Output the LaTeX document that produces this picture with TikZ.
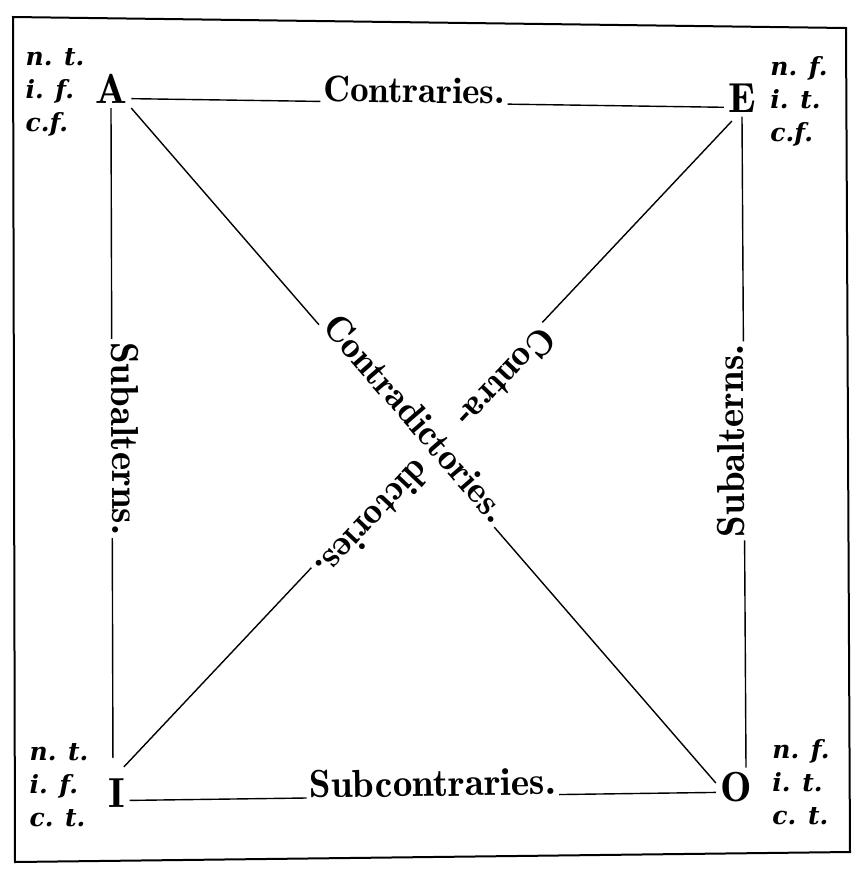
\documentclass[tikz,border=0pt]{standalone}
\usepackage{fontspec}
\newfontfamily\notefont{DejaVu Serif}
\usepackage{tikz}
\usetikzlibrary{positioning}
\tikzstyle{letter} = [inner sep=2pt, font=\fontseries{b}\fontsize{21}{21}\selectfont]
\tikzstyle{note} = [inner sep=0pt, align=left, font=\notefont\bfseries\itshape\fontsize{12.5}{16.5}\selectfont]
\tikzstyle{rel} = [fill=white, inner sep=1.5pt, anchor=base, sloped, allow upside down, font=\fontseries{b}\fontsize{18.5}{18.5}\selectfont]
\tikzstyle{big} = [font=\fontseries{b}\fontsize{19.5}{19.5}\selectfont]
\tikzstyle{line} = [line width=0.7pt]

\begin{document}
\begin{tikzpicture}[x=0.5pt, y=-0.5pt, node distance=28pt]
\useasboundingbox (0,0) rectangle (860,879);
% frame
\draw[line width=1pt] (13,17) -- (846,28) -- (850,852) -- (15,862) -- cycle;

% the four propositions
\node[letter] (A) at (111,89) {A};
\node[letter] (E) at (742,98) {E};
\node[letter] (I) at (117,793) {I};
\node[letter] (O) at (736,787) {O};

\node[note, left of=A, yshift=-1.5pt] (An) {n. t.\\ i. f.\\ c.f.};
\node[note, right of=E, xshift=0.5pt, yshift=-1.75pt] (En) {n. f.\\ i. t.\\ c.f.};
\node[note, left of=I, xshift=-1pt, yshift=4pt] (In) {n. t.\\ i. f.\\ c. t.};
\node[note, right of=O, xshift=4.5pt, yshift=2.5pt] (On) {n. f.\\ i. t.\\ c. t.};

% sides
\draw[line] ([yshift=2.5pt]A.base east) -- node[rel, pos=.477] {Contraries.} ([yshift=2.5pt]E.base west);
\draw[line] ([yshift=3.5pt]I.base east) -- node[rel, big, pos=.517] {Subcontraries.} ([yshift=4.5pt]O.base west);
\draw[line, shorten >=8pt] (A.south) -- node[rel, big, pos=.496] {Subalterns.} ([xshift=-2pt]I.north);
\draw[line] ([xshift=5pt]O.north) -- node[rel, big, pos=.502] {Subalterns.} (E.south);

% diagonals
\path ([xshift=-3pt]E.south) -- node[rel, pos=.386] (ca) {Contra-} node[rel, pos=.60] (di) {dictories.} (I.north);
\draw[line, shorten <=3pt] ([xshift=-3pt]E.south) -- (ca.base west);
\draw[line, shorten >=5pt] (di.base east) -- (I.north);
\draw[line] (A.south east) -- node[rel, pos=.471] {Contradictories.} ([yshift=2pt]O.west);

\end{tikzpicture}
\end{document}
